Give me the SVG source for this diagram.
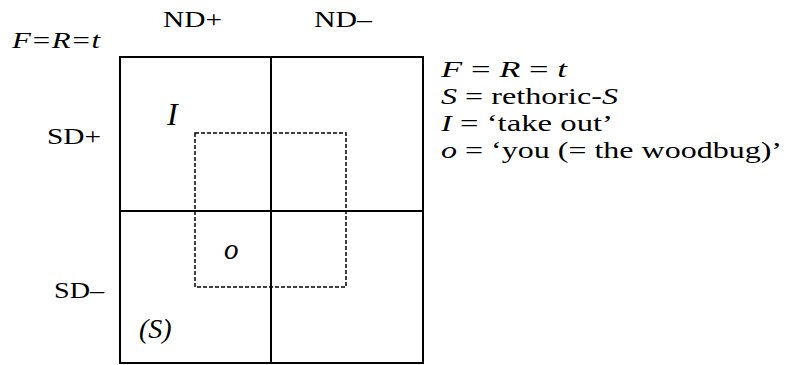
<svg xmlns="http://www.w3.org/2000/svg" width="789" height="365" viewBox="0 0 789 365">
<style>
text{font-family:"Liberation Serif","Times New Roman",serif;fill:#000}
.it{font-style:italic}
.lbl{font-size:23px}
.leg{font-size:23px}
.solid{fill:none;stroke:#000;stroke-width:2}
.dash{fill:none;stroke:#000;stroke-width:1.5;stroke-dasharray:4 2}
</style>
<rect width="789" height="365" fill="#fff"/>
<g id="axis-labels">
<text class="lbl it" x="12" y="48" textLength="88" lengthAdjust="spacingAndGlyphs">F=R=t</text>
<text class="lbl" x="163" y="27" textLength="59" lengthAdjust="spacingAndGlyphs">ND+</text>
<text class="lbl" x="314" y="27" textLength="58" lengthAdjust="spacingAndGlyphs">ND–</text>
<text class="lbl" x="47" y="144" textLength="54" lengthAdjust="spacingAndGlyphs">SD+</text>
<text class="lbl" x="54" y="298" textLength="50" lengthAdjust="spacingAndGlyphs">SD–</text>
</g>
<g id="grid">
<rect class="solid" x="120" y="57" width="303" height="306"/>
<line class="solid" x1="271" y1="57" x2="271" y2="363"/>
<line class="solid" x1="120" y1="211" x2="423" y2="211"/>
</g>
<g id="dashed-box">
<rect class="dash" x="195" y="133" width="151" height="154"/>
</g>
<g id="cell-labels">
<text class="it" x="167" y="125" font-size="32">I</text>
<text class="it" x="224" y="259" font-size="29">o</text>
<text class="it" x="139" y="338" font-size="28">(S)</text>
</g>
<g id="legend">
<text class="leg" x="441" y="77" textLength="126" lengthAdjust="spacingAndGlyphs"><tspan class="it">F</tspan> = <tspan class="it">R</tspan> = <tspan class="it">t</tspan></text>
<text class="leg" x="441" y="104" textLength="177" lengthAdjust="spacingAndGlyphs"><tspan class="it">S</tspan> = rethoric-<tspan class="it">S</tspan></text>
<text class="leg" x="441" y="131" textLength="172" lengthAdjust="spacingAndGlyphs"><tspan class="it">I</tspan> = ‘take out’</text>
<text class="leg" x="441" y="158" textLength="341" lengthAdjust="spacingAndGlyphs"><tspan class="it">o</tspan> = ‘you (= the woodbug)’</text>
</g>
</svg>
